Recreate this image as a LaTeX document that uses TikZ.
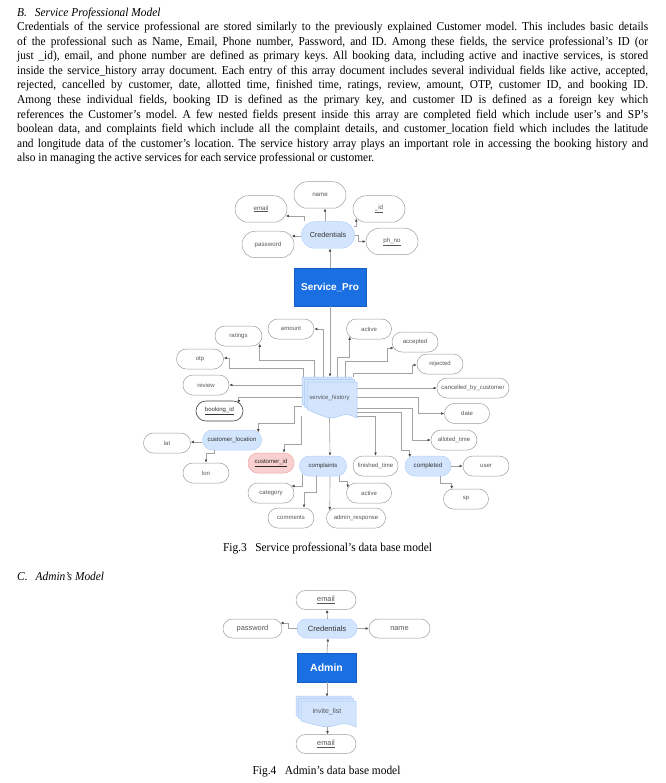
\documentclass[tikz,border=0pt]{standalone}
\usepackage{fontspec}
\usepackage{graphicx}
\setmainfont{Liberation Serif}
\newfontfamily\dsans{Liberation Sans}
\usetikzlibrary{arrows.meta,calc}
\frenchspacing

\definecolor{lnc}{HTML}{A2A2A2}
\definecolor{arc}{HTML}{474747}
\definecolor{fldb}{HTML}{9B9B9B}
\definecolor{fldt}{HTML}{555555}
\definecolor{bluef}{HTML}{D3E4FD}
\definecolor{blueb}{HTML}{B4D0FA}
\definecolor{redf}{HTML}{F9D0D0}
\definecolor{redb}{HTML}{EFA3A3}
\definecolor{docb}{HTML}{A9C9F8}
\definecolor{boxc}{HTML}{1A6FE3}

\newcommand\ptext{\fontsize{11.4}{13}\selectfont}
\newcommand\tall[1]{\scalebox{1}[1.06]{#1}}
\newcommand\pline[2]{\node[anchor=base west,inner sep=0pt,font=\ptext] at (17,#1) {\tall{\makebox[631pt][s]{#2}}};}
\newcommand\docone[4]{%
  \filldraw[fill=bluef,draw=docb,line width=0.5pt] (#1,#2) -- (#3,#2) -- plot[smooth,tension=0.7] coordinates {(#3,#4) ({#3-0.22*(#3-#1)},{#4-3.5}) ({#1+0.45*(#3-#1)},{#4-0.3}) (#1,{#4-0.24*(#4-#2)})} -- cycle;}

\tikzset{
  fld/.style={draw=fldb,line width=0.5pt,rounded corners=9.9pt,minimum width=46pt,minimum height=20pt,inner sep=0pt,font=\dsans\fontsize{6}{7}\selectfont,text=fldt},
  topfld/.style={fld,rounded corners=13.2pt,minimum width=52pt,minimum height=26.5pt,font=\dsans\fontsize{6.2}{7}\selectfont},
  afld/.style={fld,rounded corners=9.4pt,minimum width=60pt,minimum height=19pt,font=\dsans\fontsize{7.4}{8}\selectfont},
  bfld/.style={fill=bluef,draw=blueb,text=black!80},
  rfld/.style={fill=redf,draw=redb,text=black!85},
  keyfld/.style={draw=black!75,line width=0.6pt,text=black!80},
  bigbox/.style={fill=boxc,draw=boxc!85!black,line width=0.4pt,text=white,inner sep=0pt,font=\dsans\bfseries},
  conn/.style={draw=lnc,line width=0.65pt,-{Latex[length=3.2pt,width=2.8pt,color=arc]}},
  figcap/.style={inner sep=0pt,anchor=base,font=\ptext},
}

\begin{document}
\begin{tikzpicture}[x=1pt,y=-1pt]
\useasboundingbox (0,0) rectangle (665,783);

% ---------- text ----------
\node[anchor=base west,inner sep=0pt,font=\ptext\itshape] (hB) at (17,16.5) {\tall{B.\hspace{0.7em}Service Professional Model}};
\pline{30.5}{Credentials of the service professional are stored similarly to the previously explained Customer model. This includes basic details}
\pline{45.1}{of the professional such as Name, Email, Phone number, Password, and ID. Among these fields, the service professional's ID (or}
\pline{59.7}{just \_id), email, and phone number are defined as primary keys. All booking data, including active and inactive services, is stored}
\pline{74.3}{inside the service\_history array document. Each entry of this array document includes several individual fields like active, accepted,}
\pline{88.9}{rejected, cancelled by customer, date, allotted time, finished time, ratings, review, amount, OTP, customer ID, and booking ID.}
\pline{103.5}{Among these individual fields, booking ID is defined as the primary key, and customer ID is defined as a foreign key which}
\pline{118.1}{references the Customer's model. A few nested fields present inside this array are completed field which include user’s and SP's}
\pline{132.7}{boolean data, and complaints field which include all the complaint details, and customer\_location field which includes the latitude}
\pline{147.3}{and longitude data of the customer's location. The service history array plays an important role in accessing the booking history and}
\node[anchor=base west,inner sep=0pt,font=\ptext] (pl10) at (17,161.9) {\tall{also in managing the active services for each service professional or customer.}};

% ---------- Service_Pro diagram ----------
\node[topfld] (name) at (320,195) {name};
\node[topfld] (email) at (261,209) {\underline{email}};
\node[topfld] (id) at (379,209) {\underline{\_id}};
\node[topfld] (password) at (268,244.5) {password};
\node[topfld] (phno) at (392,241.5) {\underline{ph\_no}};
\node[topfld,bfld,minimum width=53pt,font=\dsans\fontsize{7.2}{8}\selectfont] (cred) at (328,235) {Credentials};
\node[bigbox,minimum width=72pt,minimum height=38pt,font=\dsans\bfseries\fontsize{10}{12}\selectfont] (spro) at (330,287) {Service\_Pro};

\draw[conn] ([xshift=-3pt]cred.north) -- ([xshift=5pt]name.south);
\draw[conn] ([xshift=-24pt]cred.north) |- ($(email.east)+(-1.5,7)$);
\draw[conn] ($(cred.west)+(0,1)$) -- ($(password.east)+(-2.6,-8.5)$);
\draw[conn] ($(cred.east)+(-1,-9)$) -| ($(id.west)+(3.5,9.5)$);
\draw[conn] (cred.east) -- ++(4,0) |- (phno.west);
\draw[conn] (spro.north) -- (spro.north |- cred.south);

% service_history document stack
\docone{302}{377}{352}{413}
\docone{304.5}{379.5}{354.5}{415.5}
\docone{307}{382}{357}{418}
\node[inner sep=0pt,minimum width=55pt,minimum height=41pt,font=\dsans\fontsize{6}{7}\selectfont,text=fldt] (sh) at (329.5,397.5) {service\_history};

\draw[conn] (spro.south) -- (spro.south |- sh.north);

\node[fld] (amount) at (291,329) {amount};
\node[fld,minimum width=47pt] (ratings) at (238.5,336) {ratings};
\node[fld,minimum width=47pt] (otp) at (200,359) {otp};
\node[fld] (review) at (206,385) {review};
\node[fld,keyfld,minimum width=47pt] (bid) at (219.5,411) {\underline{booking\_id}};
\node[fld,bfld,minimum width=59pt] (cloc) at (232,440) {customer\_location};
\node[fld,minimum width=47pt] (lat) at (167,443) {lat};
\node[fld] (lon) at (206,473) {lon};
\node[fld,rfld] (cid) at (271,463) {\underline{customer\_id}};
\node[fld,bfld,minimum width=47pt] (compl) at (323,466) {complaints};
\node[fld,minimum width=45pt] (fin) at (375.5,466) {finished\_time};
\node[fld,bfld,font=\dsans\fontsize{6.2}{7}\selectfont] (compd) at (428,466) {completed};
\node[fld] (user) at (486,466) {user};
\node[fld,minimum width=45pt] (spn) at (466,499) {sp};
\node[fld] (categ) at (271,493) {category};
\node[fld,minimum width=45pt] (cact) at (369,493) {active};
\node[fld] (comm) at (291,518) {comments};
\node[fld,minimum width=59pt] (adres) at (356,518) {admin\_response};
\node[fld,minimum width=45pt] (active) at (369,329) {active};
\node[fld] (accep) at (415,342) {accepted};
\node[fld] (rejec) at (440,364) {rejected};
\node[fld,minimum width=72pt] (cbc) at (473,388) {cancelled\_by\_customer};
\node[fld,minimum width=45pt] (date) at (467,413.5) {date};
\node[fld] (allot) at (454,440) {alloted\_time};

% connectors from service_history
\draw[conn] ([xshift=-6.5pt]sh.north) |- (amount.east);
\draw[conn] ([xshift=-15.5pt]sh.north) -- ++(0,-16) -| ($(ratings.east)+(-2.5,7.6)$);
\draw[conn] ([xshift=-26.5pt]sh.north) -- ++(0,-8) -| ($(otp.east)+(5.5,-1)$) -- ($(otp.east)+(0,-1)$);
\draw[conn] (sh.west |- review.east) -- (review.east);
\draw[conn] (sh.west) -| ($(bid.east)+(-4.5,-7.6)$);
\draw[conn] ($(sh.west)+(0,8.5)$) -- ++(-7,0) -- ++(0,17) -| ($(cloc.east)+(-3.5,-7.6)$);
\draw[conn] ($(sh.west)+(-0.5,18.5)$) -- ++(0,28) -| ($(cid.north)+(13,0)$);
\draw[conn] (sh.south) -- ($(compl.north)+(7,0)$);
\draw[conn] ($(sh.east)+(0,18.5)$) -| (fin.north);
\draw[conn] ($(sh.east)+(0,15)$) -- ++(44,0) -- ++(0,38) -| ($(compd.west)+(5,-8.7)$);
\draw[conn] ($(sh.east)+(0,10.5)$) -- ++(55,0) |- (allot.west);
\draw[conn] ([xshift=7.5pt]sh.north) -- ++(0,-19) -| ($(active.west)+(3.5,7.6)$);
\draw[conn] ([xshift=15.5pt]sh.north) -- ++(0,-15) -- ++(42,0) |- ($(accep.west)+(2,6)$);
\draw[conn] ([xshift=23.5pt]sh.north) -- ++(0,-3) -- ++(59,0) |- ($(rejec.west)+(0,1)$);
\draw[conn] (sh.east |- cbc.west) -- (cbc.west);
\draw[conn] (sh.east) -- ++(61,0) |- (date.west);
% nested
\draw[conn] ($(cloc.west)+(0,2)$) -- ($(lat.east)+(0,-1)$);
\draw[conn] ($(cloc.west)+(12.5,9.7)$) -- ++(0,4) -| (lon.north);
\draw[conn] ($(compl.west)+(3.5,7.6)$) -- ++(0,12.4) -- ($(categ.east)+(-2.9,-7)$);
\draw[conn] ($(compl.south)+(-7,0)$) -- ++(0,16) -| ($(comm.north)+(13,0)$);
\draw[conn] ($(compl.south)+(7,0)$) -- ($(adres.west)+(3.5,-7.6)$);
\draw[conn] ($(compl.east)+(-7.5,9.7)$) -- ++(0,5.3) -| ($(cact.west)+(1.5,-5.3)$);
\draw[conn] (compd.east) -- (user.west);
\draw[conn] ($(compd.south)+(12,0)$) -- ++(0,7) -| ($(spn.west)+(8.5,-9.9)$);

\node[figcap] (fig3) at (327.5,551) {\tall{Fig.3\hspace{0.5em} Service professional’s data base model}};

% ---------- Admin ----------
\node[anchor=base west,inner sep=0pt,font=\ptext\itshape] (hC) at (17,580) {\tall{C.\hspace{0.7em}Admin’s Model}};

\node[afld] (ae) at (326,600) {\underline{email}};
\node[afld,minimum width=59pt] (ap) at (252.5,628.5) {password};
\node[afld,bfld,font=\dsans\fontsize{7.6}{8}\selectfont] (ac) at (327,628.5) {Credentials};
\node[afld,minimum width=61pt] (an) at (399.5,628.5) {name};
\node[bigbox,minimum width=59pt,minimum height=29pt,font=\dsans\bfseries\fontsize{10.5}{12}\selectfont] (adm) at (326.5,667.5) {Admin};

\docone{296}{696}{351}{722}
\docone{298.5}{698.5}{353.5}{724.5}
\docone{301}{701}{356}{727}
\node[inner sep=0pt,minimum width=60pt,minimum height=31pt,font=\dsans\fontsize{7}{8}\selectfont,text=fldt] (il) at (327,711.5) {invite\_list};
\node[afld] (ae2) at (326,744) {\underline{email}};

\draw[conn] ([xshift=0.5pt]ac.north) -- ([xshift=1pt]ae.south);
\draw[conn] (ac.west) -- ++(-8,0) -- ++(0,-5.5) -- ($(ap.east)+(-1.9,-5.5)$);
\draw[conn] (ac.east) -- (an.west);
\draw[conn] ([xshift=0.5pt]adm.north) -- ([xshift=1pt]ac.south);
\draw[conn] ([xshift=0.5pt]adm.south) -- ++(0,14.5);
\draw[conn] ($(il.south)+(0.5,-0.5)$) -- ($(ae2.north)+(1.5,0)$);

\node[figcap] (fig4) at (326.5,774) {\tall{Fig.4\hspace{0.5em} Admin’s data base model}};
\end{tikzpicture}
\end{document}
